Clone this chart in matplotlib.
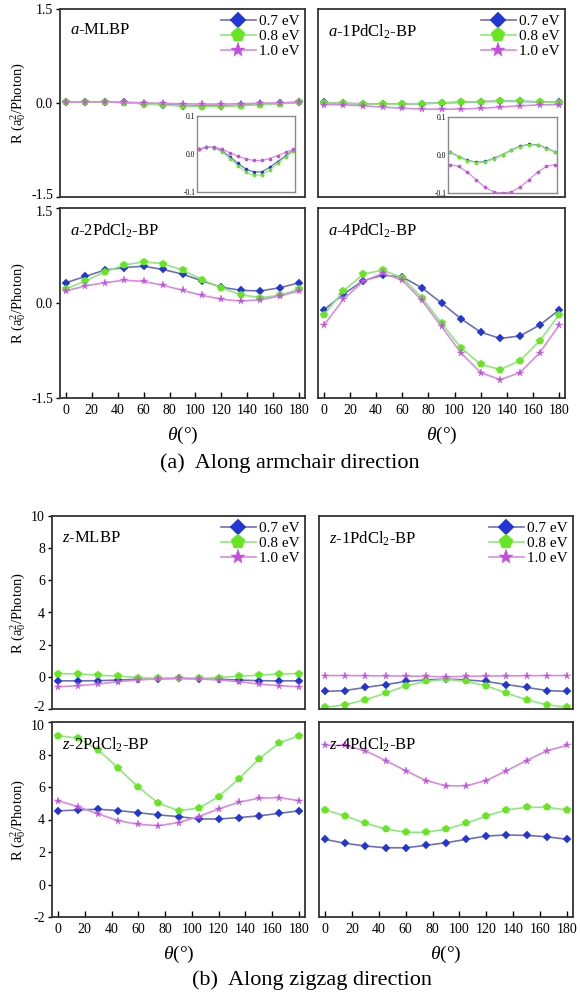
import matplotlib
matplotlib.use('Agg')
import matplotlib.pyplot as plt
import matplotlib.transforms as mtransforms
import numpy as np

plt.rcParams['font.family'] = ['Liberation Serif', 'DejaVu Serif']
plt.rcParams['mathtext.fontset'] = 'custom'
plt.rcParams['mathtext.rm'] = 'Liberation Serif'
plt.rcParams['mathtext.it'] = 'Liberation Serif:italic'

theta = [0, 15, 30, 45, 60, 75, 90, 105, 120, 135, 150, 165, 180]
labels = ['0.7 eV', '0.8 eV', '1.0 eV']

# ---- armchair ----
a_mlbp_07 = [0.012, 0.018, 0.017, 0.008, -0.008, -0.025, -0.040, -0.047, -0.047, -0.035, -0.020, -0.005, 0.010]
a_mlbp_08 = [0.012, 0.018, 0.016, 0.005, -0.012, -0.032, -0.048, -0.056, -0.055, -0.042, -0.025, -0.008, 0.008]
a_mlbp_10 = [0.012, 0.018, 0.018, 0.012, 0.003, -0.006, -0.013, -0.017, -0.017, -0.012, -0.004, 0.004, 0.012]

a_1pd_07 = [0.008, -0.004, -0.014, -0.019, -0.017, -0.009, 0.001, 0.013, 0.023, 0.028, 0.027, 0.018, 0.008]
a_1pd_08 = [0.007, -0.005, -0.015, -0.020, -0.018, -0.010, 0.000, 0.012, 0.022, 0.027, 0.026, 0.017, 0.007]
a_1pd_10 = [-0.025, -0.030, -0.045, -0.065, -0.085, -0.097, -0.100, -0.097, -0.085, -0.065, -0.045, -0.030, -0.025]

a_2pd_07 = [0.32, 0.42, 0.52, 0.56, 0.58, 0.53, 0.455, 0.35, 0.25, 0.20, 0.19, 0.24, 0.32]
a_2pd_08 = [0.22, 0.35, 0.49, 0.60, 0.65, 0.62, 0.52, 0.37, 0.24, 0.13, 0.085, 0.12, 0.22]
a_2pd_10 = [0.19, 0.27, 0.32, 0.36, 0.34, 0.28, 0.20, 0.12, 0.06, 0.03, 0.05, 0.11, 0.19]

a_4pd_07 = [-0.11, 0.14, 0.35, 0.44, 0.41, 0.24, 0.00, -0.25, -0.46, -0.56, -0.52, -0.35, -0.11]
a_4pd_08 = [-0.185, 0.19, 0.455, 0.52, 0.40, 0.085, -0.32, -0.71, -0.97, -1.05, -0.91, -0.60, -0.185]
a_4pd_10 = [-0.35, 0.06, 0.34, 0.47, 0.36, 0.04, -0.37, -0.79, -1.10, -1.21, -1.10, -0.79, -0.35]

# ---- zigzag ----
z_mlbp_07 = [-0.25, -0.25, -0.24, -0.2, -0.15, -0.12, -0.1, -0.12, -0.15, -0.2, -0.24, -0.25, -0.25]
z_mlbp_08 = [0.2, 0.18, 0.1, 0.04, -0.05, -0.1, -0.1, -0.1, -0.05, 0.04, 0.1, 0.18, 0.2]
z_mlbp_10 = [-0.62, -0.55, -0.45, -0.3, -0.2, -0.12, -0.08, -0.12, -0.2, -0.3, -0.45, -0.55, -0.62]

z_1pd_07 = [-0.91, -0.85, -0.66, -0.48, -0.29, -0.19, -0.14, -0.19, -0.29, -0.48, -0.66, -0.85, -0.91]
z_1pd_08 = [-1.89, -1.74, -1.43, -1.01, -0.56, -0.29, -0.15, -0.29, -0.56, -1.01, -1.43, -1.74, -1.89]
z_1pd_10 = [0.08, 0.08, 0.07, 0.06, 0.05, 0.03, 0.0, 0.03, 0.05, 0.06, 0.07, 0.08, 0.08]

z_2pd_07 = [4.53, 4.59, 4.63, 4.55, 4.42, 4.28, 4.18, 4.03, 4.03, 4.12, 4.22, 4.38, 4.53]
z_2pd_08 = [9.16, 9.0, 8.29, 7.16, 5.99, 5.0, 4.55, 4.69, 5.41, 6.5, 7.72, 8.7, 9.16]
z_2pd_10 = [5.16, 4.79, 4.34, 3.93, 3.7, 3.62, 3.81, 4.18, 4.65, 5.06, 5.31, 5.35, 5.16]

z_4pd_07 = [2.78, 2.53, 2.37, 2.26, 2.26, 2.41, 2.57, 2.78, 2.98, 3.05, 3.02, 2.94, 2.78]
z_4pd_08 = [4.59, 4.22, 3.77, 3.42, 3.21, 3.21, 3.4, 3.77, 4.22, 4.59, 4.75, 4.75, 4.59]
z_4pd_10 = [8.56, 8.56, 8.23, 7.63, 7.0, 6.4, 6.07, 6.07, 6.4, 7.0, 7.63, 8.23, 8.56]

line_c = ['#6f6fb8', '#8fe87f', '#d98be0']
mark_c = ['#2236d6', '#66e61e', '#c24fe0']
marks = ['D', 'p', '*']
msz = [4.3, 5.5, 5.5]

W, H = 580, 994
fig = plt.figure(figsize=(W/100, H/100), dpi=100)

def box(l, r, t, b):
    return [l/W, 1-b/H, (r-l)/W, (b-t)/H]

def draw(ax, series):
    for i, y in enumerate(series):
        ax.plot(theta, y, color=line_c[i], lw=1.2, marker=marks[i],
                ms=msz[i], mfc=mark_c[i], mec=mark_c[i], mew=0.3,
                label=labels[i])

def leg(ax):
    ax.legend(loc='upper right', frameon=False, fontsize=11, markerscale=2.0,
              handlelength=2.3, labelspacing=0.1, borderaxespad=0.05,
              handletextpad=0.2, borderpad=0.3)

def nudge(ax, first=None, last=None):
    # pull the end labels apart a little, the panels sit close together
    labs = ax.get_yticklabels()
    if first is not None:
        labs[0].set_transform(labs[0].get_transform() +
                              mtransforms.ScaledTranslation(0, first/72, fig.dpi_scale_trans))
    if last is not None:
        labs[-1].set_transform(labs[-1].get_transform() +
                               mtransforms.ScaledTranslation(0, last/72, fig.dpi_scale_trans))

def style(ax, left, bottom, ylim, yticks, ylabs):
    for s in ax.spines.values():
        s.set_color('#333333')
        s.set_linewidth(1.3)
    ax.set_xlim(-4.5, 184.5)
    ax.set_ylim(ylim)
    ax.set_yticks(yticks)
    if left:
        ax.set_yticklabels(ylabs)
        ax.tick_params(axis='y', direction='out', length=3, width=1, labelsize=10, pad=2)
        ax.set_ylabel('R (a$_0^2$/Photon)', fontsize=10.5, labelpad=2)
    else:
        ax.tick_params(axis='y', left=False, labelleft=False)
    ax.set_xticks(range(0, 181, 20))
    if bottom:
        ax.tick_params(axis='x', direction='in', length=4, width=1, labelsize=10, pad=4)
        ax.set_xlabel(r'$\theta$($\degree$)', fontsize=14, labelpad=6)
    else:
        ax.tick_params(axis='x', bottom=False, labelbottom=False)

def title(ax, pre, name):
    ax.text(0.04, 0.93, r'$\it{' + pre + '}$-' + name, transform=ax.transAxes,
            fontsize=12, va='top', ha='left')

def inset(ax, series, ylabs):
    for s in ax.spines.values():
        s.set_color('#8a8a8a')
        s.set_linewidth(1.0)
    for i, y in enumerate(series):
        ax.plot(theta, y, color=line_c[i], lw=0.9, marker='o', ms=1.6,
                mfc=mark_c[i], mec=mark_c[i])
    ax.set_xlim(-3, 183)
    ax.set_ylim(-0.1, 0.1)
    ax.set_yticks([-0.1, 0.0, 0.1])
    ax.set_yticklabels(ylabs)
    ax.tick_params(axis='y', length=0, labelsize=5.5, pad=1)
    ax.tick_params(axis='x', bottom=False, labelbottom=False)

ya = [-1.5, 0.0, 1.5]
ya_l = ['-1.5', '0.0', '1.5']
yz = [-2, 0, 2, 4, 6, 8, 10]
yz_l = ['-2', '0', '2', '4', '6', '8', '10']

# (a) armchair
ax1 = fig.add_axes(box(60, 305, 9, 197))
draw(ax1, [a_mlbp_07, a_mlbp_08, a_mlbp_10])
style(ax1, True, False, (-1.5, 1.5), ya, ya_l)
nudge(ax1, first=2.5)
title(ax1, 'a', 'MLBP')
leg(ax1)

ax2 = fig.add_axes(box(318, 565, 9, 197))
draw(ax2, [a_1pd_07, a_1pd_08, a_1pd_10])
style(ax2, False, False, (-1.5, 1.5), ya, ya_l)
title(ax2, 'a', '1PdCl$_2$-BP')
leg(ax2)

in1 = fig.add_axes(box(197, 295, 116, 192))
inset(in1, [a_mlbp_07, a_mlbp_08, a_mlbp_10], ['-0.1', '0.0', '0.1'])
in2 = fig.add_axes(box(448, 557, 117, 193))
inset(in2, [a_1pd_07, a_1pd_08, a_1pd_10], ['-0.1', '0.0', '0.1'])

ax3 = fig.add_axes(box(60, 305, 208, 398))
draw(ax3, [a_2pd_07, a_2pd_08, a_2pd_10])
style(ax3, True, True, (-1.5, 1.5), ya, ya_l)
nudge(ax3, last=-2.5)
title(ax3, 'a', '2PdCl$_2$-BP')

ax4 = fig.add_axes(box(318, 565, 208, 398))
draw(ax4, [a_4pd_07, a_4pd_08, a_4pd_10])
style(ax4, False, True, (-1.5, 1.5), ya, ya_l)
title(ax4, 'a', '4PdCl$_2$-BP')

fig.text(290/W, 1-463/H, '(a)  Along armchair direction', fontsize=16, ha='center', va='center')

# (b) zigzag
bx1 = fig.add_axes(box(52, 305, 516, 709))
draw(bx1, [z_mlbp_07, z_mlbp_08, z_mlbp_10])
style(bx1, True, False, (-2, 10), yz, yz_l)
nudge(bx1, first=2.5)
title(bx1, 'z', 'MLBP')
leg(bx1)

bx2 = fig.add_axes(box(319, 573, 516, 709))
draw(bx2, [z_1pd_07, z_1pd_08, z_1pd_10])
style(bx2, False, False, (-2, 10), yz, yz_l)
title(bx2, 'z', '1PdCl$_2$-BP')
leg(bx2)

bx3 = fig.add_axes(box(52, 305, 722, 917))
draw(bx3, [z_2pd_07, z_2pd_08, z_2pd_10])
style(bx3, True, True, (-2, 10), yz, yz_l)
nudge(bx3, last=-2.5)
title(bx3, 'z', '2PdCl$_2$-BP')

bx4 = fig.add_axes(box(319, 573, 722, 917))
draw(bx4, [z_4pd_07, z_4pd_08, z_4pd_10])
style(bx4, False, True, (-2, 10), yz, yz_l)
title(bx4, 'z', '4PdCl$_2$-BP')

fig.text(312/W, 1-980/H, '(b)  Along zigzag direction', fontsize=16, ha='center', va='center')

plt.savefig('out.png', dpi=100)
